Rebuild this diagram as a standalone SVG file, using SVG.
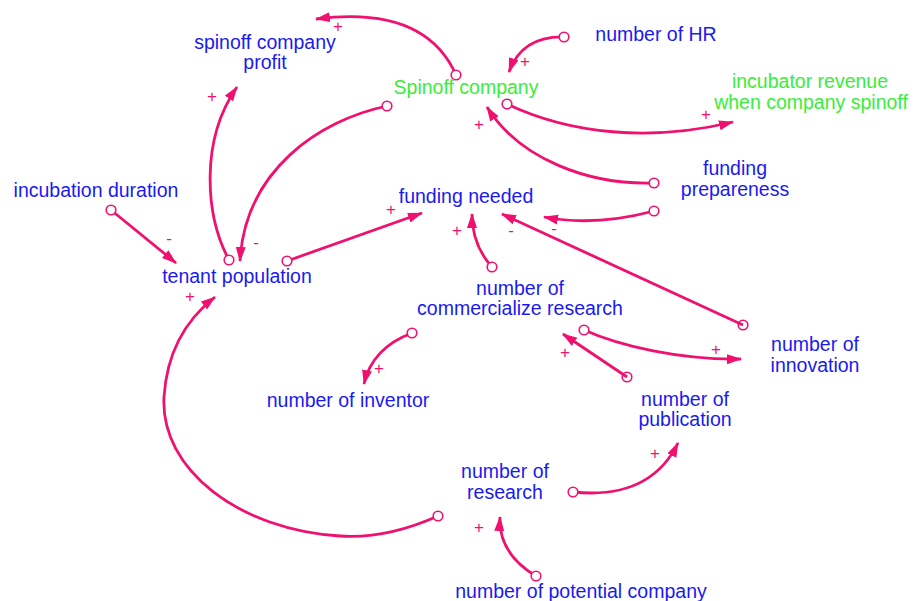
<svg xmlns="http://www.w3.org/2000/svg" width="914" height="601" viewBox="0 0 914 601">
<defs>
<style>
.t{font-family:"Liberation Sans",Arial,sans-serif;font-size:19.5px;fill:#1a1af0;text-anchor:middle}
.g{fill:#38ee38}
.s{font-family:"Liberation Sans",Arial,sans-serif;font-size:17px;fill:#f0106e;text-anchor:middle;dominant-baseline:central}
.c{fill:none;stroke:#f0106e;stroke-width:2.8;marker-end:url(#ah)}
.o{fill:#fff;stroke:#f0106e;stroke-width:1.6}
.x{fill:none;stroke:#f0106e;stroke-width:1.6}
</style>
<marker id="ah" markerUnits="userSpaceOnUse" markerWidth="16" markerHeight="12" refX="14" refY="5" orient="auto">
<path d="M0,0 L15,5 L0,10 Z" fill="#f0106e"/>
</marker>
</defs>
<rect width="914" height="601" fill="#fff"/>
<g id="connectors">
<path id="A" class="c" d="M456,75 Q425,5 316,19"/>
<path id="B" class="c" d="M564,37 Q522,36 509,72"/>
<path id="C" class="c" d="M507,104 C570,134 650,142 733,122"/>
<path id="D" class="c" d="M654,183 C590,185 520,160 487,107"/>
<path id="E" class="c" d="M654,211 C620,220 580,224 544,217"/>
<path id="F" class="c" d="M743,325 L502,214"/>
<path id="G" class="c" d="M287,261 L422,213"/>
<path id="H" class="c" d="M492,267 Q472,245 472,214"/>
<path id="I" class="c" d="M387,106 C320,120 245,170 240,261"/>
<path id="J" class="c" d="M229,260 C205,215 200,140 237,87"/>
<path id="K" class="c" d="M111,210 L176,263"/>
<path id="L" class="c" d="M438,516 C400,533 370,538 340,536 C240,530 160,470 164,397 C167,350 188,318 215,297"/>
<path id="M" class="c" d="M412,333 Q372,348 364,384"/>
<path id="N" class="c" d="M584,330 C620,346 680,360 741,359"/>
<path id="O" class="c" d="M627,377 L563,334"/>
<path id="P" class="c" d="M573,492 Q650,500 678,443"/>
<path id="Q" class="c" d="M536,576 Q498,553 500,517"/>
<circle class="o" cx="456" cy="75" r="4.8"/>
<circle class="o" cx="564" cy="37" r="4.8"/>
<circle class="o" cx="507" cy="104" r="4.8"/>
<circle class="o" cx="654" cy="183" r="4.8"/>
<circle class="o" cx="654" cy="211" r="4.8"/>
<circle class="x" cx="743" cy="325" r="4.8"/>
<circle class="o" cx="287" cy="261" r="4.8"/>
<circle class="o" cx="492" cy="267" r="4.8"/>
<circle class="o" cx="387" cy="106" r="4.8"/>
<circle class="o" cx="229" cy="260" r="4.8"/>
<circle class="o" cx="111" cy="210" r="4.8"/>
<circle class="o" cx="438" cy="516" r="4.8"/>
<circle class="o" cx="412" cy="333" r="4.8"/>
<circle class="o" cx="584" cy="330" r="4.8"/>
<circle class="x" cx="627" cy="377" r="4.8"/>
<circle class="o" cx="573" cy="492" r="4.8"/>
<circle class="o" cx="536" cy="576" r="4.8"/>
<text class="s" x="338" y="26">+</text>
<text class="s" x="525" y="61">+</text>
<text class="s" x="706" y="114">+</text>
<text class="s" x="479" y="124">+</text>
<text class="s" x="554" y="228">-</text>
<text class="s" x="511" y="230">-</text>
<text class="s" x="391" y="209">+</text>
<text class="s" x="457" y="230">+</text>
<text class="s" x="256" y="242">-</text>
<text class="s" x="212" y="96">+</text>
<text class="s" x="169" y="238">-</text>
<text class="s" x="190" y="296">+</text>
<text class="s" x="379" y="368">+</text>
<text class="s" x="716" y="349">+</text>
<text class="s" x="565" y="352">+</text>
<text class="s" x="655" y="453">+</text>
<text class="s" x="479" y="527">+</text>
</g>
<g id="spinoff-company-profit"><text class="t" x="265" y="49">spinoff company</text><text class="t" x="265" y="69">profit</text></g>
<g id="spinoff-company"><text class="t g" x="466" y="94">Spinoff company</text></g>
<g id="number-of-hr"><text class="t" x="656" y="41">number of HR</text></g>
<g id="incubator-revenue"><text class="t g" x="810" y="88">incubator revenue</text><text class="t g" x="811" y="109">when company spinoff</text></g>
<g id="funding-prepareness"><text class="t" x="735" y="175">funding</text><text class="t" x="735" y="196">prepareness</text></g>
<g id="incubation-duration"><text class="t" x="96" y="197">incubation duration</text></g>
<g id="tenant-population"><text class="t" x="237" y="283">tenant population</text></g>
<g id="funding-needed"><text class="t" x="466" y="203">funding needed</text></g>
<g id="commercialize-research"><text class="t" x="520" y="295">number of</text><text class="t" x="520" y="315">commercialize research</text></g>
<g id="number-of-inventor"><text class="t" x="348" y="407">number of inventor</text></g>
<g id="number-of-publication"><text class="t" x="685" y="406">number of</text><text class="t" x="685" y="426">publication</text></g>
<g id="number-of-innovation"><text class="t" x="815" y="351">number of</text><text class="t" x="815" y="372">innovation</text></g>
<g id="number-of-research"><text class="t" x="505" y="478">number of</text><text class="t" x="505" y="499">research</text></g>
<g id="number-of-potential-company"><text class="t" x="581" y="598">number of potential company</text></g>
</svg>
